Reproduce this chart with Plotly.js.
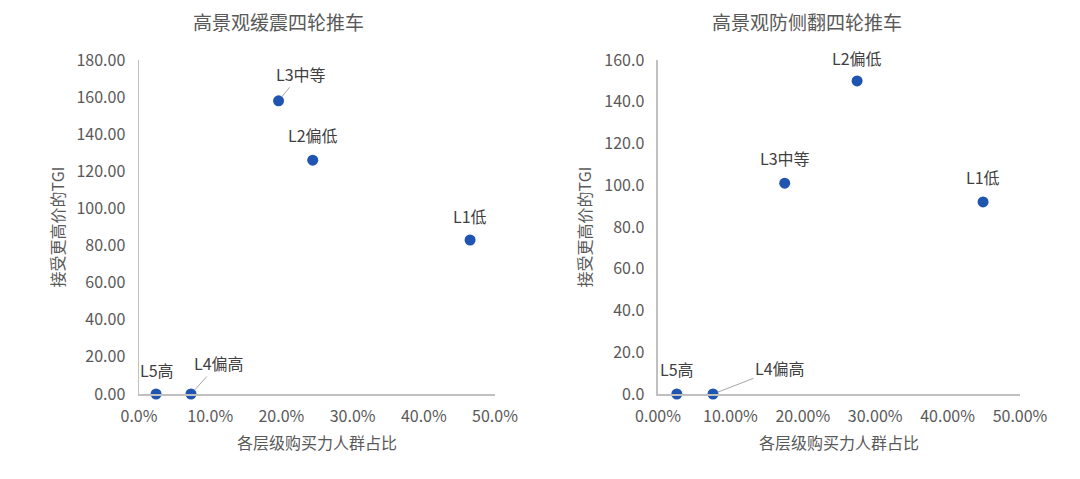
<!DOCTYPE html>
<html>
<head>
<meta charset="utf-8">
<script src="https://cdn.plot.ly/plotly-3.0.1.min.js"></script>
<style>html,body{margin:0;padding:0;background:#fff;}#chart{width:1080px;height:479px;}</style>
</head>
<body>
<div id="chart"></div>
<script>
// Data
const labels = ['L1低', 'L2偏低', 'L3中等', 'L4偏高', 'L5高'];
const leftShare = [0.465, 0.244, 0.196, 0.073, 0.024];
const leftTGI = [83, 126, 158, 0, 0];
const rightShare = [0.449, 0.275, 0.175, 0.076, 0.026];
const rightTGI = [92, 150, 101, 0, 0];
const leftTitle = '高景观缓震四轮推车';
const rightTitle = '高景观防侧翻四轮推车';
const xTitle = '各层级购买力人群占比';
const yTitle = '接受更高价的TGI';

const FONT = '"Noto Sans CJK SC", "Noto Sans", sans-serif';
const TICK = '#595959';
const LABEL = '#404040';
const AXIS = '#c0c0c0';
const DOT = '#1f55b0';

function trace(x, y, xa, ya) {
  return {
    type: 'scatter', mode: 'markers', x: x, y: y, xaxis: xa, yaxis: ya,
    marker: {color: DOT, size: 11},
    cliponaxis: false, hoverinfo: 'skip', showlegend: false
  };
}

function axisX(domain, fmt, anchor) {
  return {
    domain: domain, anchor: anchor, range: [0, 0.5], dtick: 0.1, tick0: 0,
    tickformat: fmt, showgrid: false, zeroline: false, showline: true,
    linecolor: AXIS, linewidth: 1.5, ticks: '', ticklabelstandoff: 7,
    tickfont: {family: FONT, size: 16, color: TICK},
    title: {text: xTitle, font: {family: FONT, size: 16, color: TICK}, standoff: 12},
    fixedrange: true
  };
}
function axisY(range, fmt, anchor) {
  return {
    domain: [0, 1], anchor: anchor, range: range, dtick: 20, tick0: 0,
    tickformat: fmt, showgrid: false, zeroline: false, showline: true,
    linecolor: AXIS, linewidth: 1.5, ticks: '', ticklabelstandoff: 9,
    tickfont: {family: FONT, size: 16, color: TICK},
    title: {text: yTitle, font: {family: FONT, size: 16, color: TICK}, standoff: 8},
    fixedrange: true
  };
}

const labelFont = {family: FONT, size: 16, color: LABEL};
function plain(xa, ya, x, y, text, yshift, xshift) {
  return {xref: xa, yref: ya, x: x, y: y, text: text, showarrow: false,
          xanchor: 'center', yanchor: 'middle',
          yshift: yshift, xshift: xshift || 0, font: labelFont};
}
function arrow(xa, ya, x, y, text, ax, ay) {
  return {xref: xa, yref: ya, x: x, y: y, text: text, showarrow: true,
          ax: ax, ay: ay, arrowhead: 0, arrowwidth: 1, arrowcolor: '#a6a6a6',
          standoff: 5, font: labelFont};
}

const annotations = [
  // left chart labels (index: 0 L1, 1 L2, 2 L3, 3 L4, 4 L5)
  plain('x', 'y', leftShare[0], leftTGI[0], labels[0], 24),
  plain('x', 'y', leftShare[1], leftTGI[1], labels[1], 25),
  arrow('x', 'y', leftShare[2], leftTGI[2], labels[2], 22, -27),
  arrow('x', 'y', leftShare[3], leftTGI[3], labels[3], 28, -31),
  plain('x', 'y', leftShare[4], leftTGI[4], labels[4], 24, 1),
  // right chart labels
  plain('x2', 'y2', rightShare[0], rightTGI[0], labels[0], 25),
  plain('x2', 'y2', rightShare[1], rightTGI[1], labels[1], 23),
  plain('x2', 'y2', rightShare[2], rightTGI[2], labels[2], 25),
  arrow('x2', 'y2', rightShare[3], rightTGI[3], labels[3], 67, -26),
  plain('x2', 'y2', rightShare[4], rightTGI[4], labels[4], 25),
  // subplot titles
  {xref: 'paper', yref: 'paper', x: 0.1578, y: 1.1138, xanchor: 'center', yanchor: 'middle',
   text: leftTitle, showarrow: false, font: {family: FONT, size: 19, color: TICK}},
  {xref: 'paper', yref: 'paper', x: 0.7582, y: 1.1138, xanchor: 'center', yanchor: 'middle',
   text: rightTitle, showarrow: false, font: {family: FONT, size: 19, color: TICK}}
];

const layout = {
  width: 1080, height: 479,
  margin: {l: 139, r: 60, t: 60, b: 85},
  paper_bgcolor: '#ffffff', plot_bgcolor: '#ffffff',
  xaxis: axisX([0, 0.4041], '.1%', 'y'),
  yaxis: axisY([0, 180], '.2f', 'x'),
  xaxis2: axisX([0.5891, 1], '.2%', 'y2'),
  yaxis2: axisY([0, 160], '.1f', 'x2'),
  annotations: annotations,
  showlegend: false
};

Plotly.newPlot('chart', [
  trace(leftShare, leftTGI, 'x', 'y'),
  trace(rightShare, rightTGI, 'x2', 'y2')
], layout, {displayModeBar: false, staticPlot: true});
</script>
</body>
</html>
